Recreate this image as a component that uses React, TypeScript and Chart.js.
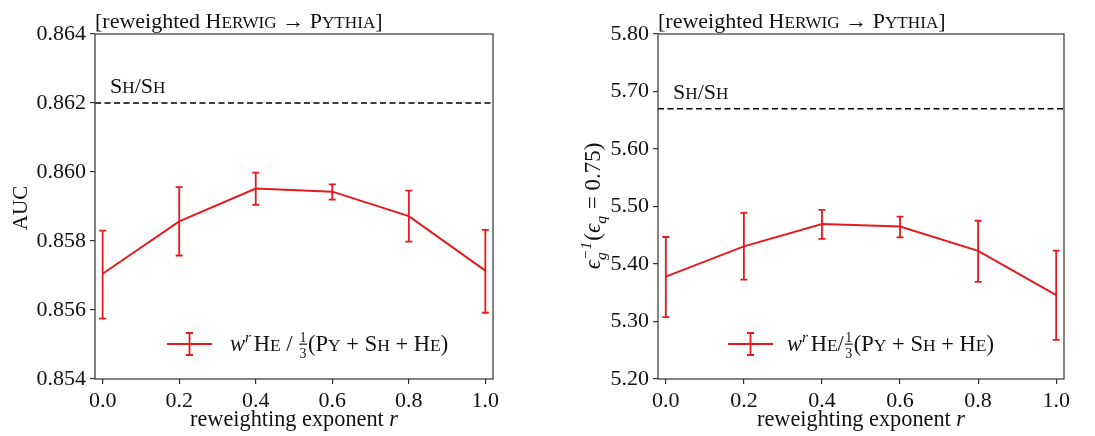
import React, { useEffect, useRef } from "react";
import { Chart, registerables } from "chart.js";
Chart.register(...registerables);

// ---------- data ----------
const rValues = [0.0, 0.2, 0.4, 0.6, 0.8, 1.0];
const xTickValues = [0.0, 0.2, 0.4, 0.6, 0.8, 1.0];

const aucMean = [0.85705, 0.85857, 0.85952, 0.85943, 0.85872, 0.85714];
const aucLow = [0.85575, 0.85758, 0.85905, 0.8592, 0.85798, 0.85592];
const aucHigh = [0.8583, 0.85956, 0.85998, 0.85964, 0.85946, 0.85832];
const aucReference = 0.862;
const aucTicks = [0.854, 0.856, 0.858, 0.86, 0.862, 0.864];

const effMean = [5.378, 5.4307, 5.4696, 5.4651, 5.4229, 5.346];
const effLow = [5.3075, 5.3727, 5.4438, 5.4464, 5.3688, 5.268];
const effHigh = [5.447, 5.4889, 5.4941, 5.4825, 5.4752, 5.4234];
const effReference = 5.67;
const effTicks = [5.2, 5.3, 5.4, 5.5, 5.6, 5.7, 5.8];

// ---------- styling ----------
const FAM = "'Liberation Serif', 'DejaVu Serif', serif";
const RED = "#e41a1c";
const INK = "#111111";
const SC = 0.78;

type Seg = {
  t?: string;
  s?: number;
  it?: boolean;
  dy?: number;
  sup?: string;
  sub?: string;
  frac?: [string, string];
};

function fnt(size: number, italic?: boolean) {
  return `${italic ? "italic " : ""}${size}px ${FAM}`;
}

function segWidth(ctx: CanvasRenderingContext2D, g: Seg, base: number) {
  if (g.frac) {
    ctx.font = fnt(base * 0.62);
    return Math.max(ctx.measureText(g.frac[0]).width, ctx.measureText(g.frac[1]).width) + 3;
  }
  if (g.sup !== undefined || g.sub !== undefined) {
    ctx.font = fnt(base * 0.68, g.it);
    return Math.max(ctx.measureText(g.sup || "").width, ctx.measureText(g.sub || "").width) + 1;
  }
  ctx.font = fnt((g.s ?? 1) * base, g.it);
  return ctx.measureText(g.t || "").width;
}

function richWidth(ctx: CanvasRenderingContext2D, segs: Seg[], base: number) {
  return segs.reduce((a, g) => a + segWidth(ctx, g, base), 0);
}

function drawRich(
  ctx: CanvasRenderingContext2D,
  segs: Seg[],
  x: number,
  y: number,
  base: number,
  align: "left" | "center" = "left"
) {
  let cx = align === "center" ? x - richWidth(ctx, segs, base) / 2 : x;
  ctx.textAlign = "left";
  ctx.textBaseline = "alphabetic";
  for (const g of segs) {
    const w = segWidth(ctx, g, base);
    if (g.frac) {
      ctx.font = fnt(base * 0.62);
      const [n, d] = g.frac;
      const wn = ctx.measureText(n).width;
      const wd = ctx.measureText(d).width;
      ctx.fillText(n, cx + (w - wn) / 2, y - base * 0.42);
      ctx.fillText(d, cx + (w - wd) / 2, y + base * 0.3);
      ctx.fillRect(cx + 1, y - base * 0.33, w - 2, Math.max(1, base * 0.05));
    } else if (g.sup !== undefined || g.sub !== undefined) {
      ctx.font = fnt(base * 0.68, g.it);
      if (g.sup) ctx.fillText(g.sup, cx, y - base * 0.4);
      if (g.sub) ctx.fillText(g.sub, cx, y + base * 0.28);
    } else {
      ctx.font = fnt((g.s ?? 1) * base, g.it);
      ctx.fillText(g.t || "", cx, y + (g.dy ?? 0) * base);
    }
    cx += w;
  }
}

const titleSegs: Seg[] = [
  { t: "[reweighted H" },
  { t: "ERWIG", s: SC },
  { t: " \u2192 P" },
  { t: "YTHIA", s: SC },
  { t: "]" },
];
const refLabelSegs: Seg[] = [{ t: "S" }, { t: "H", s: SC }, { t: "/S" }, { t: "H", s: SC }];
const xTitleSegs: Seg[] = [{ t: "reweighting exponent " }, { t: "r", it: true }];
const legendLeftSegs: Seg[] = [
  { t: "w", it: true },
  { sup: "r", it: true },
  { t: " ", s: 0.3 },
  { t: "H" },
  { t: "E", s: SC },
  { t: " / " },
  { frac: ["1", "3"] },
  { t: "(P" },
  { t: "Y", s: SC },
  { t: " + " },
  { t: "S" },
  { t: "H", s: SC },
  { t: " + " },
  { t: "H" },
  { t: "E", s: SC },
  { t: ")" },
];
const legendRightSegs: Seg[] = [
  { t: "w", it: true },
  { sup: "r", it: true },
  { t: " ", s: 0.3 },
  { t: "H" },
  { t: "E", s: SC },
  { t: "/" },
  { frac: ["1", "3"] },
  { t: "(P" },
  { t: "Y", s: SC },
  { t: " + " },
  { t: "S" },
  { t: "H", s: SC },
  { t: " + " },
  { t: "H" },
  { t: "E", s: SC },
  { t: ")" },
];
const aucYTitle: Seg[] = [{ t: "AUC" }];
const effYTitle: Seg[] = [
  { t: "\u03f5", it: true },
  { sup: "\u22121", sub: "g", it: true },
  { t: "(" },
  { t: "\u03f5", it: true },
  { sub: "q", it: true },
  { t: " = 0.75)" },
];

type PanelCfg = {
  key: string;
  mean: number[];
  low: number[];
  high: number[];
  ref: number;
  ticks: number[];
  digits: number;
  yWidth: number;
  padRight: number;
  legendSegs: Seg[];
  legendOffset: number;
  legendTextGap: number;
  yTitle: Seg[];
  yTitleX: number;
  yTitleY: number;
  yTitleSize: number;
};

function makeDecor(cfg: PanelCfg) {
  return {
    id: "decor" + cfg.key,
    afterDatasetsDraw(chart: any) {
      const { ctx, scales } = chart;
      const x = scales.x;
      const y = scales.y;
      ctx.save();
      ctx.strokeStyle = RED;
      ctx.lineWidth = 1.8;
      rValues.forEach((xv, i) => {
        const px = x.getPixelForValue(xv);
        const y1 = y.getPixelForValue(cfg.low[i]);
        const y2 = y.getPixelForValue(cfg.high[i]);
        ctx.beginPath();
        ctx.moveTo(px, y1);
        ctx.lineTo(px, y2);
        ctx.moveTo(px - 3.5, y1);
        ctx.lineTo(px + 3.5, y1);
        ctx.moveTo(px - 3.5, y2);
        ctx.lineTo(px + 3.5, y2);
        ctx.stroke();
      });
      ctx.restore();
    },
    afterDraw(chart: any) {
      const { ctx, chartArea: a, scales } = chart;
      const y = scales.y;
      ctx.save();
      // reference dashed line
      const ry = y.getPixelForValue(cfg.ref);
      ctx.strokeStyle = "#000";
      ctx.lineWidth = 1.6;
      ctx.setLineDash([6, 3.5]);
      ctx.beginPath();
      ctx.moveTo(a.left, ry);
      ctx.lineTo(a.right, ry);
      ctx.stroke();
      ctx.setLineDash([]);
      ctx.fillStyle = INK;
      drawRich(ctx, refLabelSegs, a.left + 15, ry - 10, 22);
      // frame
      ctx.strokeStyle = "#333";
      ctx.lineWidth = 1.2;
      ctx.strokeRect(a.left, a.top, a.right - a.left, a.bottom - a.top);
      // title
      ctx.fillStyle = INK;
      drawRich(ctx, titleSegs, a.left, a.top - 6, 22);
      // x title
      drawRich(ctx, xTitleSegs, (a.left + a.right) / 2, 426, 22.3, "center");
      // y title (rotated)
      ctx.save();
      ctx.translate(cfg.yTitleX, cfg.yTitleY);
      ctx.rotate(-Math.PI / 2);
      drawRich(ctx, cfg.yTitle, 0, 0, cfg.yTitleSize, "center");
      ctx.restore();
      // legend
      const lx = a.left + cfg.legendOffset;
      const ly = a.bottom - 35;
      ctx.strokeStyle = RED;
      ctx.lineWidth = 1.8;
      ctx.beginPath();
      ctx.moveTo(lx, ly);
      ctx.lineTo(lx + 45, ly);
      const cx = lx + 22.5;
      ctx.moveTo(cx, ly - 11);
      ctx.lineTo(cx, ly + 11);
      ctx.moveTo(cx - 3.5, ly - 11);
      ctx.lineTo(cx + 3.5, ly - 11);
      ctx.moveTo(cx - 3.5, ly + 11);
      ctx.lineTo(cx + 3.5, ly + 11);
      ctx.stroke();
      ctx.fillStyle = INK;
      drawRich(ctx, cfg.legendSegs, lx + cfg.legendTextGap, ly + 7, 22.5);
      ctx.restore();
    },
  };
}

function buildChart(canvas: HTMLCanvasElement, cfg: PanelCfg) {
  return new Chart(canvas, {
    type: "line",
    data: {
      datasets: [
        {
          data: rValues.map((xv, i) => ({ x: xv, y: cfg.mean[i] })),
          borderColor: RED,
          borderWidth: 2,
          pointRadius: 0,
          tension: 0,
          fill: false,
        },
      ],
    },
    options: {
      responsive: false,
      animation: false,
      devicePixelRatio: 1,
      layout: { padding: { left: 0, right: cfg.padRight, top: 34, bottom: 0 } },
      plugins: { legend: { display: false }, title: { display: false }, tooltip: { enabled: false } },
      scales: {
        x: {
          type: "linear",
          min: -0.02,
          max: 1.02,
          afterBuildTicks: (s: any) => {
            s.ticks = xTickValues.map((v) => ({ value: v }));
          },
          afterFit: (s: any) => {
            s.height = 57;
          },
          grid: { display: true, drawOnChartArea: false, drawTicks: true, tickLength: 5, color: "#333", lineWidth: 1.2 },
          border: { display: false },
          ticks: {
            font: { family: FAM, size: 22 },
            color: INK,
            padding: 4,
            maxRotation: 0,
            autoSkip: false,
            callback: (v: any) => Number(v).toFixed(1),
          },
        },
        y: {
          type: "linear",
          min: cfg.ticks[0],
          max: cfg.ticks[cfg.ticks.length - 1],
          afterBuildTicks: (s: any) => {
            s.ticks = cfg.ticks.map((v) => ({ value: v }));
          },
          afterFit: (s: any) => {
            s.width = cfg.yWidth;
          },
          grid: { display: true, drawOnChartArea: false, drawTicks: true, tickLength: 5, color: "#333", lineWidth: 1.2 },
          border: { display: false },
          ticks: {
            font: { family: FAM, size: 22 },
            color: INK,
            padding: 4,
            autoSkip: false,
            callback: (v: any) => Number(v).toFixed(cfg.digits),
          },
        },
      },
    },
    plugins: [makeDecor(cfg)],
  } as any);
}

const leftCfg: PanelCfg = {
  key: "auc",
  mean: aucMean,
  low: aucLow,
  high: aucHigh,
  ref: aucReference,
  ticks: aucTicks,
  digits: 3,
  yWidth: 95,
  padRight: 55,
  legendSegs: legendLeftSegs,
  legendOffset: 72,
  legendTextGap: 63,
  yTitle: aucYTitle,
  yTitleX: 27,
  yTitleY: 208,
  yTitleSize: 21,
};

const rightCfg: PanelCfg = {
  key: "eff",
  mean: effMean,
  low: effLow,
  high: effHigh,
  ref: effReference,
  ticks: effTicks,
  digits: 2,
  yWidth: 110,
  padRight: 31,
  legendSegs: legendRightSegs,
  legendOffset: 70,
  legendTextGap: 59,
  yTitle: effYTitle,
  yTitleX: 52,
  yTitleY: 206,
  yTitleSize: 23,
};

export default function App() {
  const leftRef = useRef<HTMLCanvasElement>(null);
  const rightRef = useRef<HTMLCanvasElement>(null);
  useEffect(() => {
    const c1 = buildChart(leftRef.current!, leftCfg);
    const c2 = buildChart(rightRef.current!, rightCfg);
    return () => {
      c1.destroy();
      c2.destroy();
    };
  }, []);
  return (
    <div style={{ position: "absolute", left: 0, top: 0, width: 1095, height: 436, background: "#fff" }}>
      <canvas ref={leftRef} width={548} height={436} style={{ position: "absolute", left: 0, top: 0 }} />
      <canvas ref={rightRef} width={547} height={436} style={{ position: "absolute", left: 548, top: 0 }} />
    </div>
  );
}
